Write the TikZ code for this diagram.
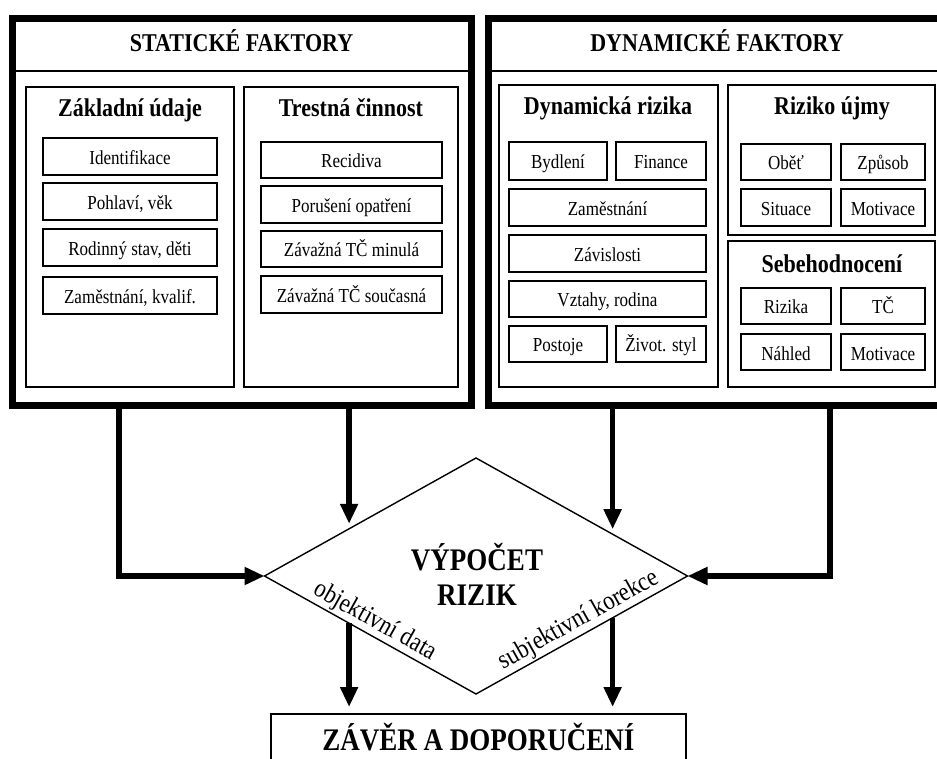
\documentclass[tikz,border=0pt]{standalone}
\usepackage{fontspec}
\setmainfont[FakeStretch=0.86]{Liberation Serif}
\usetikzlibrary{arrows.meta,calc,shapes.geometric}
\begin{document}
\begin{tikzpicture}[x=1pt,y=-1pt,
  bigbox/.style={draw, line width=7pt, inner sep=0pt, outer sep=0pt, anchor=north west},
  grpbox/.style={draw, line width=1.6pt, inner sep=0pt, outer sep=0pt, anchor=north west},
  item/.style={draw, line width=1.6pt, inner sep=0pt, outer sep=0pt, anchor=north west,
     text height=16pt, text depth=0pt, font=\fontsize{19.8}{22}\selectfont},
  hdr/.style={line width=1.8pt},
  ttl/.style={anchor=base, inner sep=0pt, font=\fontsize{25.6}{28}\selectfont\bfseries},
  big/.style={font=\fontsize{31.4}{34}\selectfont\bfseries},
  side/.style={font=\fontsize{26.5}{29}\selectfont, inner sep=2pt},
  flow/.style={line width=5.5pt, line join=miter, -{Triangle[length=20pt,width=17pt]}}
]
\useasboundingbox (0,0) rectangle (937,759);
\fill[white] (0,0) rectangle (937,759);
\clip (0,0) rectangle (937,759);

% big boxes
\node[bigbox, minimum width=459pt, minimum height=386pt] (stat) at (12,19) {};
\node[bigbox, minimum width=457pt, minimum height=386pt] (dyn) at (488,19) {};
\coordinate (hl) at (0,71);
\draw[hdr] (stat.west |- hl) -- (stat.east |- hl);
\draw[hdr] (dyn.west |- hl) -- (dyn.east |- hl);
\node[ttl] (st) at (241.5,52) {STATICKÉ FAKTORY};
\node[ttl] (dt) at (717,52) {DYNAMICKÉ FAKTORY};

% group boxes
\node[grpbox, minimum width=208pt, minimum height=300pt] (zu) at (26,87) {};
\node[grpbox, minimum width=214pt, minimum height=300pt] (tc) at (244,87) {};
\node[grpbox, minimum width=219pt, minimum height=302pt] (dr) at (499,85) {};
\node[grpbox, minimum width=207pt, minimum height=150pt] (ru) at (728,85) {};
\node[grpbox, minimum width=207pt, minimum height=146pt] (sh) at (728,241) {};

\node[ttl] (zut) at (130,117) {Základní údaje};
\node[ttl] (tct) at (351,117) {Trestná činnost};
\node[ttl] (drt) at (608,115) {Dynamická rizika};
\node[ttl] (rut) at (832,115) {Riziko újmy};
\node[ttl] (sht) at (832,273) {Sebehodnocení};

% Základní údaje
\node[item, minimum width=174pt, minimum height=37pt] (a1) at (43,138) {Identifikace};
\node[item, minimum width=174pt, minimum height=37pt] (a2) at (43,183) {Pohlaví, věk};
\node[item, minimum width=174pt, minimum height=37pt] (a3) at (43,229) {Rodinný stav, děti};
\node[item, minimum width=174pt, minimum height=37pt] (a4) at (43,277) {Zaměstnání, kvalif.};

% Trestná činnost
\node[item, minimum width=181pt, minimum height=36pt] (b1) at (261,142) {Recidiva};
\node[item, minimum width=181pt, minimum height=37pt] (b2) at (261,186) {Porušení opatření};
\node[item, minimum width=181pt, minimum height=36pt] (b3) at (261,231) {Závažná TČ minulá};
\node[item, minimum width=181pt, minimum height=37pt] (b4) at (261,276) {Závažná TČ současná};

% Dynamická rizika
\node[item, minimum width=98pt, minimum height=38pt] (c1) at (509,142) {Bydlení};
\node[item, minimum width=90pt, minimum height=38pt] (c2) at (616,142) {Finance};
\node[item, minimum width=197pt, minimum height=37pt] (c3) at (509,189) {Zaměstnání};
\node[item, minimum width=197pt, minimum height=37pt] (c4) at (509,235) {Závislosti};
\node[item, minimum width=197pt, minimum height=36pt] (c5) at (509,281) {Vztahy, rodina};
\node[item, minimum width=98pt, minimum height=36pt] (c6) at (509,326) {Postoje};
\node[item, minimum width=90pt, minimum height=36pt] (c7) at (616,326) {Život. styl};

% Riziko újmy
\node[item, minimum width=90pt, minimum height=36pt] (d1) at (741,144) {Oběť};
\node[item, minimum width=84pt, minimum height=36pt] (d2) at (841,144) {Způsob};
\node[item, minimum width=90pt, minimum height=37pt] (d3) at (741,189) {Situace};
\node[item, minimum width=84pt, minimum height=37pt] (d4) at (841,189) {Motivace};

% Sebehodnocení
\node[item, minimum width=90pt, minimum height=36pt] (e1) at (741,288) {Rizika};
\node[item, minimum width=84pt, minimum height=36pt] (e2) at (841,288) {TČ};
\node[item, minimum width=90pt, minimum height=36pt] (e3) at (741,334) {Náhled};
\node[item, minimum width=84pt, minimum height=36pt] (e4) at (841,334) {Motivace};

% diamond
\node[draw, diamond, line width=1.4pt, minimum width=423pt, minimum height=236pt,
      inner sep=0pt, outer sep=0pt] (d) at (476,576) {};
\node[big, anchor=base] (v1) at (477,570) {VÝPOČET};
\node[big, anchor=base] (v2) at (477,605) {RIZIK};
\path (d.west) -- (d.south) node[pos=0.49, sloped, above, side] (od) {objektivní data};
\path (d.south) -- (d.east) node[pos=0.52, sloped, above, side] (sk) {subjektivní korekce};

% conclusion box
\node[draw, line width=1.6pt, anchor=north, outer sep=0pt, minimum width=415pt,
      inner ysep=18pt, text height=18pt, text depth=0pt, big] (zav) at (478.5,714) {ZÁVĚR A DOPORUČENÍ};

% connectors
\coordinate (sl) at (119,0);
\coordinate (sr) at (830,0);
\coordinate (sm) at ($(d.west)!0.4!(d.north)$);
\coordinate (dm) at ($(d.east)!0.354!(d.north)$);
\coordinate (bl) at ($(d.west)!0.4!(d.south)$);
\coordinate (br) at ($(d.east)!0.354!(d.south)$);
\draw[flow] (stat.south -| sl) |- (d.west);
\draw[flow] (dyn.south -| sr) |- (d.east);
\draw[flow, shorten >=5pt] (stat.south -| sm) -- (sm);
\draw[flow, shorten >=5pt] (dyn.south -| dm) -- (dm);
\draw[flow, shorten >=7pt] (bl) -- (bl |- zav.north);
\draw[flow, shorten >=7pt] (br) -- (br |- zav.north);
\end{tikzpicture}
\end{document}
